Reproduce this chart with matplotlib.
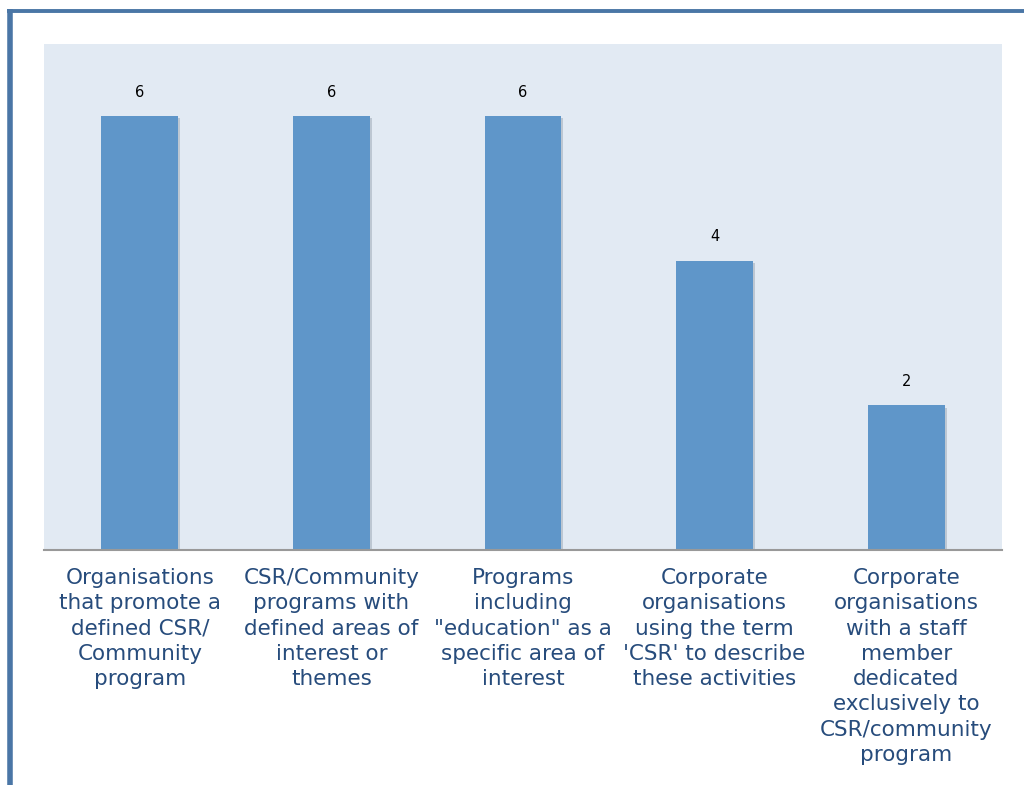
import matplotlib
matplotlib.use('Agg')
import matplotlib.pyplot as plt
import matplotlib.patheffects as pe
from matplotlib.lines import Line2D

categories = [
    'Organisations\nthat promote a\ndefined CSR/\nCommunity\nprogram',
    'CSR/Community\nprograms with\ndefined areas of\ninterest or\nthemes',
    'Programs\nincluding\n"education" as a\nspecific area of\ninterest',
    "Corporate\norganisations\nusing the term\n'CSR' to describe\nthese activities",
    'Corporate\norganisations\nwith a staff\nmember\ndedicated\nexclusively to\nCSR/community\nprogram',
]
counts = [6, 6, 6, 4, 2]

W, H = 1024, 785
fig = plt.figure(figsize=(W / 100, H / 100), dpi=100)
fig.patch.set_facecolor('white')

# plot area in pixels: x 44..1002, y 44..550
ax = fig.add_axes([44 / W, 1 - 550 / H, (1002 - 44) / W, (550 - 44) / H])
ax.set_facecolor('#E2EAF3')

x = list(range(len(counts)))
bars = ax.bar(x, counts, width=0.4, color='#5F96C9', zorder=3)
for b in bars:
    b.set_path_effects([pe.SimplePatchShadow(offset=(1.5, -1.5), shadow_rgbFace='#9aa6b2', alpha=0.5),
                        pe.Normal()])

for xi, v in zip(x, counts):
    ax.annotate(str(v), (xi, v), xytext=(0, 12), textcoords='offset points',
                ha='center', va='bottom', fontsize=10.5, color='black')

ax.set_xlim(-0.5, len(counts) - 0.5)
ax.set_ylim(0, 7)
ax.set_yticks([])
ax.set_xticks(x)
ax.set_xticklabels(categories, fontsize=15.5, color='#274C7C', linespacing=1.33)
ax.tick_params(axis='x', length=0, pad=13)

for s in ['top', 'right', 'left']:
    ax.spines[s].set_visible(False)
ax.spines['bottom'].set_color('#999999')
ax.spines['bottom'].set_linewidth(1.5)
ax.spines['bottom'].set_zorder(4)

# page frame at left and top
frame = '#4A76A6'
fig.add_artist(Line2D([9.5 / W, 9.5 / W], [0, 1 - 9 / H], transform=fig.transFigure,
                      color=frame, linewidth=4.0, solid_capstyle='butt'))
fig.add_artist(Line2D([7 / W, 1], [1 - 10.5 / H, 1 - 10.5 / H], transform=fig.transFigure,
                      color=frame, linewidth=2.8, solid_capstyle='butt'))

fig.savefig('out.png', dpi=100, facecolor='white')
